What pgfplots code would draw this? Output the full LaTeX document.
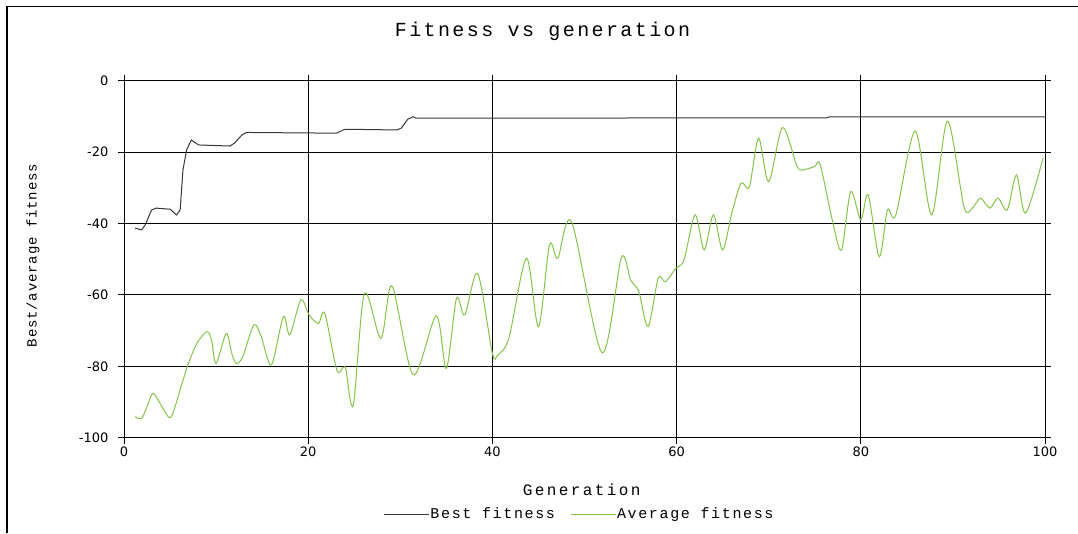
\documentclass[border=0pt]{standalone}
\usepackage{pgfplots}
\pgfplotsset{compat=1.18}
\usepackage{fontspec}
\setmainfont{Liberation Mono}
\newfontfamily\titlefont[LetterSpace=12]{Liberation Mono}
\newfontfamily\labfont[LetterSpace=15]{Liberation Mono}
\newfontfamily\legfont[LetterSpace=11]{Liberation Mono}
\newfontfamily\ylabfont[LetterSpace=6]{Liberation Mono}
\newfontfamily\tickfont{DejaVu Sans}
\definecolor{bestc}{RGB}{55,55,55}
\definecolor{avgc}{RGB}{135,195,75}
\begin{document}
\begin{tikzpicture}[x=1pt,y=1pt]
\useasboundingbox (0,0) rectangle (1078,533);
\draw[line width=1.3pt] (7,0) -- (7,526.5) -- (1078,526.5);
\begin{axis}[
  at={(124pt,95.3pt)}, anchor=south west,
  scale only axis, width=921pt, height=357pt,
  xmin=0, xmax=100, ymin=-100, ymax=0,
  xtick={0,20,...,100}, ytick={-100,-80,...,0},
  grid=major, major grid style={black, line width=1pt},
  axis line style={black, line width=1pt},
  tick style={black, line width=1pt},
  tick align=outside, major tick length=6pt,
  ticklabel style={font=\tickfont\fontsize{13}{13}\selectfont},
  /pgf/number format/assume math mode=true,
  yticklabel style={xshift=-6pt},
  title={Fitness vs generation},
  title style={at={(0.4544,1)}, anchor=center, yshift=43.7pt, font=\titlefont\fontsize{20}{24}\selectfont},
  xlabel={Generation},
  xlabel style={at={([yshift=-52.3pt]axis description cs:0.497,0)}, anchor=center, font=\labfont\fontsize{16}{18}\selectfont},
  ylabel={Best/average fitness},
  ylabel style={at={([xshift=-91pt]axis description cs:0,0.51)}, anchor=center, font=\ylabfont\fontsize{14}{16}\selectfont},
  legend style={at={([yshift=-76.3pt]axis description cs:0.494,0)}, anchor=center, draw=none, fill=none,
    font=\legfont\fontsize{15}{17}\selectfont, nodes={inner sep=1pt},
    /tikz/every even column/.append style={column sep=14pt}},
  legend columns=2,
  legend image code/.code={\draw[#1] (0pt,0pt) -- (45pt,0pt);},
]
\addplot[bestc, line width=1pt] coordinates {
(1.2,-41.3)(1.9,-41.8)(2.3,-40.4)(3.0,-36.2)(3.5,-35.7)(5.0,-36)(5.7,-37.6)(6.1,-36.2)
(6.4,-25)(6.8,-19.4)(7.3,-16.6)(8.1,-18)(11.5,-18.3)(12.0,-17.5)(12.8,-15.2)(13.3,-14.5)
(23.1,-14.7)(23.8,-13.8)(24.1,-13.6)(29.6,-13.8)(30.1,-13.3)(30.8,-10.8)(31.4,-10.1)(31.7,-10.5)
(76.3,-10.4)(76.6,-10.1)(100,-10.1)};
\addlegendentry{Best fitness}
\addplot[avgc, line width=1pt, smooth, tension=0.5] coordinates {
(1.2,-94.1)(1.9,-94.6)(2.5,-91.3)(3.1,-87.6)(3.7,-89.4)(4.8,-94.1)(5.3,-93.2)(6.3,-84.8)
(7.0,-79.2)(7.9,-73.6)(9.0,-70.3)(9.5,-72.6)(10.0,-79.2)(11.1,-70.8)(11.7,-76.4)(12.2,-79.2)
(12.9,-77.3)(14.1,-68.4)(14.9,-71.7)(16.0,-79.6)(17.3,-66.1)(18.0,-71.2)(19.2,-61.4)(20.1,-65.6)
(21.1,-68)(21.8,-65.2)(23.1,-81)(23.8,-80.3)(24.1,-81)(24.9,-90.8)(26.1,-59.6)(27.9,-72.2)
(29.1,-57.5)(31.4,-82.4)(33.9,-65.9)(35.0,-80.6)(36.1,-61)(37.0,-65.6)(38.4,-54)(40.0,-76.4)
(40.6,-76.8)(41.8,-72)(43.7,-49.7)(45.0,-68.9)(46.2,-46)(47.1,-49.7)(48.6,-39.6)(51.9,-76.2)
(54.0,-49.6)(55.0,-55.8)(55.9,-59.1)(56.9,-68.9)(58.0,-55.4)(58.8,-56.3)(59.9,-52.6)(60.8,-50.2)
(62.0,-37.6)(63.0,-47.4)(64.0,-37.6)(65.0,-47.4)(66.0,-37)(67.0,-28.7)(67.9,-29.7)(68.9,-16.1)
(70.0,-28.3)(71.5,-13.1)(73.1,-24.1)(74.0,-24.8)(75.0,-24.0)(75.6,-23.6)(76.9,-39)(77.9,-47.4)
(78.9,-31.1)(80.0,-39)(80.8,-32)(82.0,-49.3)(82.9,-36.2)(83.8,-37.6)(85.9,-14.1)(87.7,-37.6)
(89.4,-11.3)(91.2,-35.3)(92.1,-35.7)(93.0,-32.9)(94.0,-35.7)(94.9,-32.9)(95.9,-36.2)(96.9,-26.4)
(97.9,-37.1)(99.8,-21.5)};
\addlegendentry{Average fitness}
\end{axis}
\end{tikzpicture}
\end{document}
